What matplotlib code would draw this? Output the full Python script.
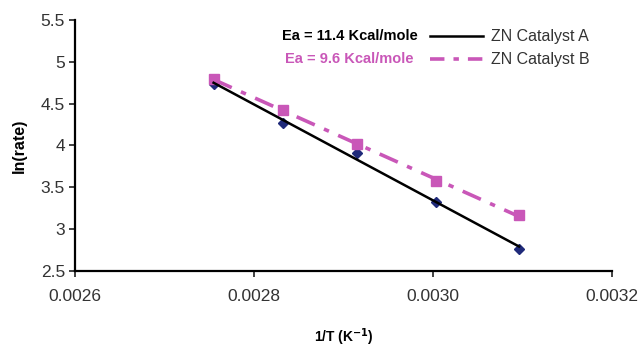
import numpy as np
import matplotlib
matplotlib.use('Agg')
import matplotlib.pyplot as plt
from matplotlib.lines import Line2D

# =============================================================================
# data
invT = [0.002755, 0.002833, 0.002915, 0.003003, 0.003096]
lnRateA = [4.73, 4.27, 3.91, 3.33, 2.76]
lnRateB = [4.79, 4.42, 4.02, 3.57, 3.17]
xTicks = [0.0026, 0.0028, 0.0030, 0.0032]
xTickLabels = ['0.0026', '0.0028', '0.0030', '0.0032']
yTicks = [2.5, 3, 3.5, 4, 4.5, 5, 5.5]
yTickLabels = ['2.5', '3', '3.5', '4', '4.5', '5', '5.5']

blue = '#1f2a7a'
pink = '#c957b8'

plt.rcParams['font.family'] = ['Liberation Sans', 'DejaVu Sans']

# =============================================================================

fig = plt.figure(figsize=(6.39, 3.49), dpi=100)
ax = fig.add_axes([0.117, 0.2235, 0.841, 0.7195])

x = np.array(invT)
fitA = np.polyfit(x, lnRateA, 1)
fitB = np.polyfit(x, lnRateB, 1)

ax.plot(x, lnRateA, linestyle='none', marker='D', ms=5, color=blue, zorder=3)
ax.plot(x, lnRateB, linestyle='none', marker='s', ms=6.5, color=pink, zorder=3)
ax.plot(x, np.polyval(fitA, x), color='black', lw=1.8, zorder=4)
ax.plot(x, np.polyval(fitB, x), color=pink, lw=2.6, dashes=(5.5, 2.8, 1.5, 2.8), zorder=2)

ax.set_xlim(0.0026, 0.0032)
ax.set_ylim(2.5, 5.5)
ax.set_xticks(xTicks)
ax.set_xticklabels(xTickLabels)
ax.set_yticks(yTicks)
ax.set_yticklabels(yTickLabels)
ax.tick_params(labelsize=12.5, colors='#333333', direction='out', length=4, width=1.3)
ax.tick_params(axis='x', pad=9)
ax.tick_params(axis='y', pad=3)

for side in ['top', 'right']:
    ax.spines[side].set_visible(False)
for side in ['left', 'bottom']:
    ax.spines[side].set_linewidth(1.6)

ax.set_ylabel('ln(rate)', fontsize=11.5, fontweight='bold', labelpad=10)
ax.set_xlabel(r'1/T (K$^{\mathbf{-1}}$)', fontsize=10, fontweight='bold', labelpad=16)

# legend: line sample plus series name, Ea text to the left
handles = [Line2D([], [], color='black', lw=1.8),
           Line2D([], [], color=pink, lw=2.6, dashes=(4, 2.5, 1.5, 2.5))]
leg = ax.legend(handles, ['ZN Catalyst A', 'ZN Catalyst B'], loc='upper right',
                bbox_to_anchor=(0.985, 1.02), frameon=False, fontsize=11.5,
                handlelength=3.3, handletextpad=0.5, labelspacing=0.5)
for t in leg.get_texts():
    t.set_color('#333333')

ax.text(0.639, 0.935, 'Ea = 11.4 Kcal/mole', transform=ax.transAxes, ha='right',
        va='center', fontsize=10.5, fontweight='bold', color='black')
ax.text(0.630, 0.845, 'Ea = 9.6 Kcal/mole', transform=ax.transAxes, ha='right',
        va='center', fontsize=10.5, fontweight='bold', color=pink)

fig.savefig('out.png', dpi=100)
